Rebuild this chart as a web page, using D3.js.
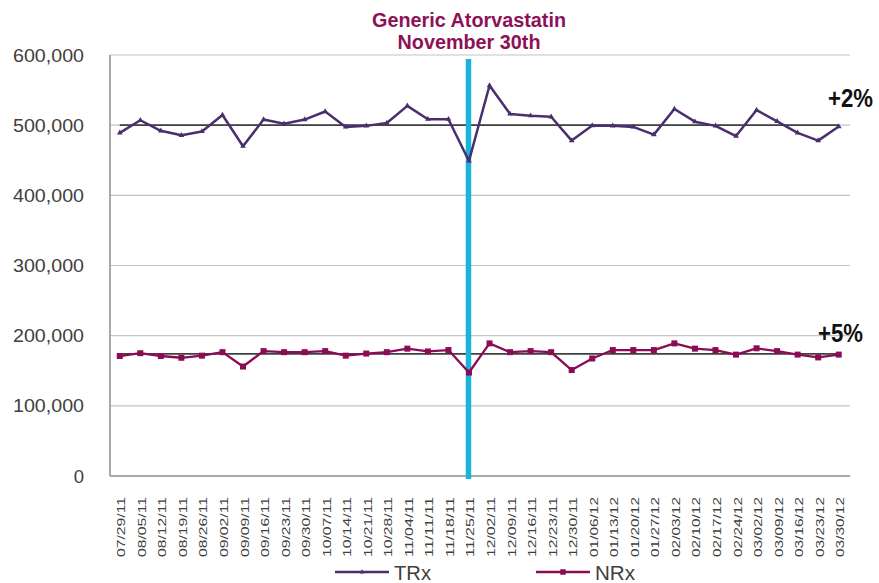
<!DOCTYPE html>
<html>
<head>
<meta charset="utf-8">
<script src="https://cdn.jsdelivr.net/npm/d3@7"></script>
<style>
  body { margin: 0; background: #fff; }
  svg { display: block; }
  text { font-family: "Liberation Sans", Arial, sans-serif; }
</style>
</head>
<body>
<svg width="879" height="583"></svg>
<script>
// weekly dates, values
const weeks = ["07/29/11","08/05/11","08/12/11","08/19/11","08/26/11","09/02/11","09/09/11","09/16/11",
  "09/23/11","09/30/11","10/07/11","10/14/11","10/21/11","10/28/11","11/04/11","11/11/11","11/18/11",
  "11/25/11","12/02/11","12/09/11","12/16/11","12/23/11","12/30/11","01/06/12","01/13/12","01/20/12",
  "01/27/12","02/03/12","02/10/12","02/17/12","02/24/12","03/02/12","03/09/12","03/16/12","03/23/12","03/30/12"];

const trx = [489000, 507000, 492000, 485500, 491000, 514500, 470000, 508000, 502000, 508000,
  519500, 497500, 499000, 503000, 527500, 508500, 508500, 449000, 556500, 516000,
  513500, 512000, 478000, 499500, 499000, 497500, 486500, 523000, 505000, 499000,
  484500, 521500, 505500, 489000, 478000, 498000];

const nrx = [171000, 175000, 171000, 168500, 171500, 176500, 156000, 178000, 176500, 176500,
  178000, 171500, 174500, 176500, 181500, 177500, 179500, 147500, 189000, 176500,
  178000, 176500, 151000, 167500, 179500, 179500, 179500, 189000, 181500, 179500,
  173000, 182000, 178000, 173000, 169000, 173000];

const yTicks = [0, 100000, 200000, 300000, 400000, 500000, 600000];
const trxRef = 500000, nrxRef = 174000;
const eventWeek = "11/25/11";
const titleLines = ["Generic Atorvastatin", "November 30th"];

const svg = d3.select("svg");
const x = d3.scaleBand().domain(weeks).range([109.5, 849]);
const y = d3.scaleLinear().domain([0, 600000]).range([476, 55]);
const cx = d => x(d) + x.bandwidth() / 2;

const trxColor = "#4a2f6e", nrxColor = "#8a0c55", axisText = "#404040";

// gridlines
svg.append("g")
  .selectAll("line").data(yTicks.filter(t => t > 0)).join("line")
  .attr("x1", 110).attr("x2", 850)
  .attr("y1", d => y(d)).attr("y2", d => y(d))
  .attr("stroke", "#c4c4c4").attr("stroke-width", 1.2);

// y axis labels
svg.append("g")
  .selectAll("text").data(yTicks).join("text")
  .attr("x", 84).attr("y", d => y(d))
  .attr("text-anchor", "end").attr("dominant-baseline", "central")
  .attr("font-size", 18.5).attr("fill", axisText)
  .text(d => d3.format(",")(d))
  .each(function(d) { if (d > 0) d3.select(this).attr("textLength", 71).attr("lengthAdjust", "spacingAndGlyphs"); });

// axis lines
svg.append("line").attr("x1", 110).attr("x2", 110).attr("y1", 55).attr("y2", 476)
  .attr("stroke", "#8c8c8c").attr("stroke-width", 1.5);
svg.append("line").attr("x1", 110).attr("x2", 850).attr("y1", 476).attr("y2", 476)
  .attr("stroke", "#8c8c8c").attr("stroke-width", 1.5);

// x labels
svg.append("g")
  .selectAll("text").data(weeks).join("text")
  .attr("transform", d => `translate(${cx(d) + 1.5},497) rotate(-90)`)
  .attr("text-anchor", "end").attr("dominant-baseline", "central")
  .attr("font-size", 11.5).attr("fill", axisText)
  .attr("textLength", 60).attr("lengthAdjust", "spacingAndGlyphs")
  .text(d => d);

// reference lines
[trxRef, nrxRef].forEach(v => {
  svg.append("line")
    .attr("x1", cx(weeks[0])).attr("x2", cx(weeks[weeks.length - 1]))
    .attr("y1", y(v)).attr("y2", y(v))
    .attr("stroke", "#404040").attr("stroke-width", 1.8);
});

// event marker
svg.append("line")
  .attr("x1", cx(eventWeek) - 0.5).attr("x2", cx(eventWeek) - 0.5)
  .attr("y1", 59).attr("y2", 479)
  .attr("stroke", "#1bb3d8").attr("stroke-width", 5.5);

// series
const line = d3.line().x((d, i) => cx(weeks[i])).y(d => y(d));

svg.append("path").datum(trx).attr("d", line)
  .attr("fill", "none").attr("stroke", trxColor).attr("stroke-width", 2.5)
  .attr("stroke-linejoin", "round");
svg.append("g").selectAll("path").data(trx).join("path")
  .attr("transform", (d, i) => `translate(${cx(weeks[i])},${y(d)})`)
  .attr("d", d3.symbol(d3.symbolTriangle, 14))
  .attr("fill", trxColor);

svg.append("path").datum(nrx).attr("d", line)
  .attr("fill", "none").attr("stroke", nrxColor).attr("stroke-width", 2.3)
  .attr("stroke-linejoin", "round");
svg.append("g").selectAll("rect").data(nrx).join("rect")
  .attr("x", (d, i) => cx(weeks[i]) - 3).attr("y", d => y(d) - 3)
  .attr("width", 6).attr("height", 6)
  .attr("fill", nrxColor);

// title
svg.append("g")
  .selectAll("text").data(titleLines).join("text")
  .attr("x", 469).attr("y", (d, i) => 27 + i * 21.5)
  .attr("text-anchor", "middle")
  .attr("font-size", 20).attr("font-weight", "bold").attr("fill", "#8e1157")
  .attr("textLength", (d, i) => i === 0 ? 194 : 143).attr("lengthAdjust", "spacingAndGlyphs")
  .style("font-family", "'Liberation Sans Narrow', 'Arial Narrow', 'Liberation Sans', sans-serif")
  .text(d => d);

// change labels
const pct = [{t: "+2%", x: 828, y: 107}, {t: "+5%", x: 818, y: 342}];
svg.append("g").selectAll("text").data(pct).join("text")
  .attr("x", d => d.x).attr("y", d => d.y)
  .attr("font-size", 25).attr("font-weight", "bold").attr("fill", "#111")
  .attr("textLength", 45).attr("lengthAdjust", "spacingAndGlyphs")
  .style("font-family", "'Liberation Sans Narrow', 'Arial Narrow', 'Liberation Sans', sans-serif")
  .text(d => d.t);

// legend
const legend = [{name: "TRx", color: trxColor, x: 335, w: 37, tri: true},
                {name: "NRx", color: nrxColor, x: 536, w: 40, tri: false}];
const lg = svg.append("g").selectAll("g").data(legend).join("g")
  .attr("transform", d => `translate(${d.x},572)`);
lg.append("line").attr("x1", 0).attr("x2", 54)
  .attr("stroke", d => d.color).attr("stroke-width", 2.5);
lg.append("path")
  .attr("transform", "translate(27,0)")
  .attr("d", d => d.tri ? d3.symbol(d3.symbolTriangle, 10)() : d3.symbol(d3.symbolSquare, 30)())
  .attr("fill", d => d.color);
lg.append("text").attr("x", 59).attr("y", 0)
  .attr("dominant-baseline", "central")
  .attr("font-size", 21).attr("fill", axisText)
  .attr("textLength", d => d.w).attr("lengthAdjust", "spacingAndGlyphs")
  .text(d => d.name);
</script>
</body>
</html>
